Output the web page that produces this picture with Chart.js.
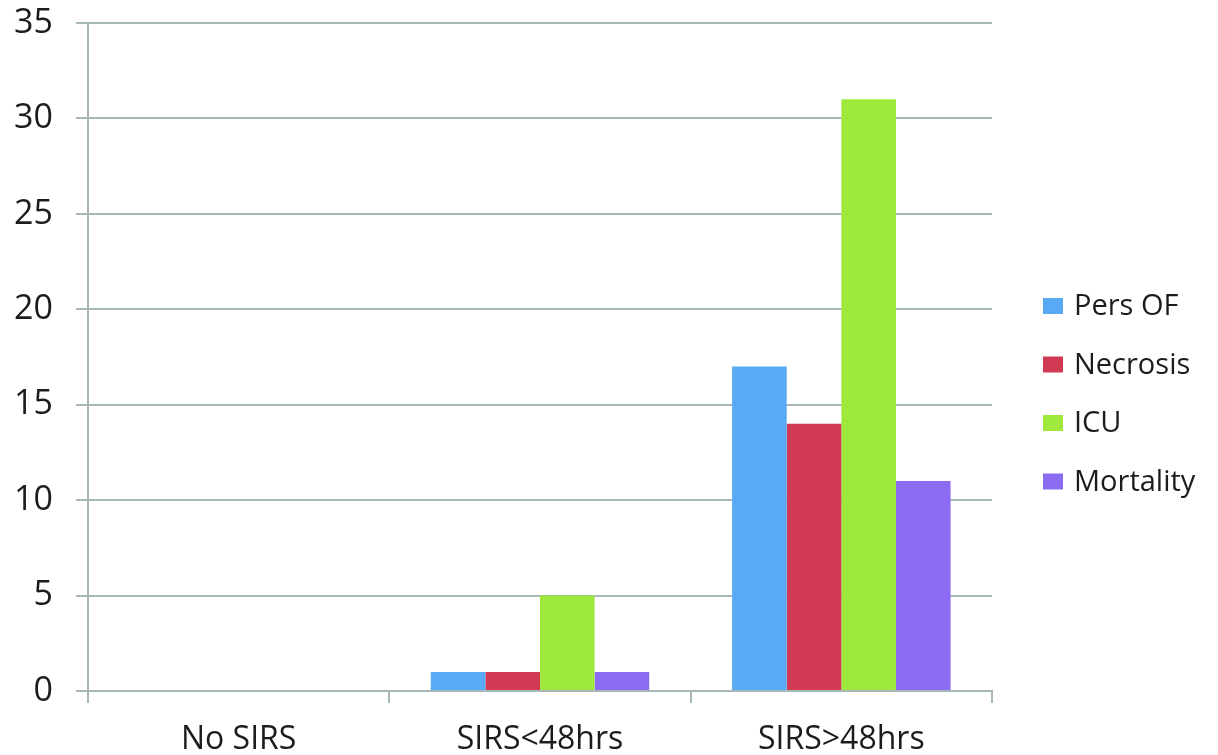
<!DOCTYPE html>
<html>
<head>
<meta charset="utf-8">
<script src="https://cdn.jsdelivr.net/npm/chart.js@4"></script>
<style>
  html, body { margin: 0; padding: 0; background: #fff; overflow: hidden; }
  canvas { display: block; }
</style>
</head>
<body>
<canvas id="c" width="1218" height="790"></canvas>
<script>
// Outcome counts by SIRS duration group
const categories = ['No SIRS', 'SIRS<48hrs', 'SIRS>48hrs'];
const seriesNames = ['Pers OF', 'Necrosis', 'ICU', 'Mortality'];
const persOF    = [0, 1, 17];
const necrosis  = [0, 1, 14];
const icu       = [0, 5, 31];
const mortality = [0, 1, 11];
const yTicks = [0, 5, 10, 15, 20, 25, 30, 35];

const colors = ['#58aaf5', '#d13a53', '#9fe83c', '#8a6bf1'];
const gridColor = '#a6b8b8';
const FONT = '"Open Sans", "Noto Sans", sans-serif';

const values = [persOF, necrosis, icu, mortality];
const datasets = seriesNames.map((name, i) => ({
  label: name,
  data: values[i],
  backgroundColor: colors[i],
  borderWidth: 0,
  categoryPercentage: 0.725,
  barPercentage: 1.0
}));

// Legend drawn beside the plot, one row per series
const sideLegend = {
  id: 'sideLegend',
  afterDraw(chart) {
    const ctx = chart.ctx;
    const x0 = 1043, y0 = 306, step = 58.5;
    ctx.save();
    ctx.font = '29px ' + FONT;
    ctx.textBaseline = 'middle';
    ctx.textAlign = 'left';
    chart.data.datasets.forEach((ds, i) => {
      const cy = y0 + i * step;
      ctx.fillStyle = ds.backgroundColor;
      ctx.fillRect(x0, cy - 8, 20, 16);
      ctx.fillStyle = '#1c1c1c';
      ctx.fillText(ds.label, x0 + 31, cy + 1);
    });
    ctx.restore();
  }
};

new Chart(document.getElementById('c'), {
  type: 'bar',
  data: { labels: categories, datasets },
  options: {
    responsive: false,
    animation: false,
    layout: { padding: { top: 23, right: 226, left: 0, bottom: 0 } },
    plugins: {
      legend: { display: false },
      tooltip: { enabled: false }
    },
    scales: {
      x: {
        offset: true,
        grid: {
          offset: true,
          drawOnChartArea: false,
          drawTicks: true,
          tickLength: 12,
          color: gridColor,
          lineWidth: 2
        },
        border: { display: true, color: gridColor, width: 2 },
        ticks: {
          color: '#1c1c1c',
          font: { family: FONT, size: 32 },
          padding: 18,
          maxRotation: 0
        },
        afterFit(scale) {
          scale.height = 99;
          scale.paddingLeft = 0;
          scale.paddingRight = 0;
        }
      },
      y: {
        min: 0,
        max: 35,
        afterBuildTicks(scale) { scale.ticks = yTicks.map(v => ({ value: v })); },
        grid: {
          color: gridColor,
          lineWidth: 2,
          tickLength: 12
        },
        border: { display: true, color: gridColor, width: 2 },
        ticks: {
          color: '#1c1c1c',
          font: { family: FONT, size: 34 },
          padding: 23
        },
        afterFit(scale) {
          scale.width = 88;
          scale.paddingTop = 0;
          scale.paddingBottom = 0;
        }
      }
    }
  },
  plugins: [sideLegend]
});
</script>
</body>
</html>
